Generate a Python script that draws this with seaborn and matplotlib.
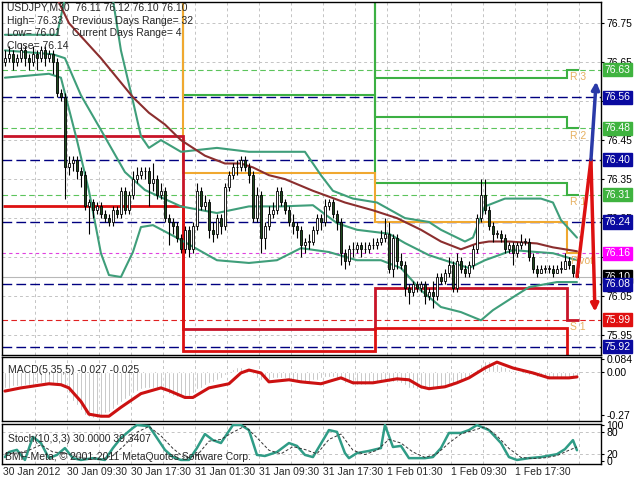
import matplotlib
matplotlib.use("Agg")
import matplotlib.pyplot as plt
import seaborn as sns

# USDJPY M30 bars, first bar = 30 Jan 2012 01:30
first_open = 76.65
closes = [
    76.66, 76.67, 76.65, 76.66, 76.68, 76.66, 76.65, 76.67, 76.66, 76.68,
    76.66, 76.67, 76.65, 76.57, 76.56, 76.38, 76.39, 76.40, 76.37, 76.36,
    76.28, 76.29, 76.27, 76.28, 76.26, 76.25, 76.24, 76.27, 76.26, 76.32,
    76.27, 76.31, 76.35, 76.36, 76.37, 76.37, 76.34, 76.35, 76.31, 76.32,
    76.25, 76.24, 76.23, 76.20, 76.17, 76.22, 76.17, 76.23, 76.32, 76.28,
    76.29, 76.22, 76.21, 76.25, 76.23, 76.33, 76.36, 76.38, 76.38, 76.40,
    76.38, 76.36, 76.25, 76.31, 76.20, 76.23, 76.26, 76.27, 76.32, 76.29,
    76.27, 76.24, 76.23, 76.22, 76.18, 76.19, 76.19, 76.22, 76.25, 76.24,
    76.28, 76.29, 76.26, 76.24, 76.16, 76.14, 76.17, 76.17, 76.18, 76.17,
    76.17, 76.18, 76.18, 76.19, 76.20, 76.21, 76.12, 76.20, 76.14, 76.13,
    76.07, 76.06, 76.08, 76.07, 76.08, 76.05, 76.06, 76.05, 76.10, 76.09,
    76.11, 76.13, 76.07, 76.14, 76.12, 76.11, 76.13, 76.17, 76.25, 76.31,
    76.27, 76.23, 76.21, 76.21, 76.20, 76.17, 76.18, 76.16, 76.18, 76.19,
    76.19, 76.15, 76.12, 76.11, 76.12, 76.12, 76.12, 76.11, 76.12, 76.12,
    76.14, 76.13, 76.11, 76.10]
highs = [
    76.68, 76.69, 76.68, 76.67, 76.70, 76.69, 76.67, 76.69, 76.68, 76.69,
    76.69, 76.68, 76.68, 76.66, 76.58, 76.57, 76.41, 76.41, 76.41, 76.38,
    76.37, 76.30, 76.30, 76.29, 76.29, 76.27, 76.26, 76.28, 76.28, 76.33,
    76.33, 76.32, 76.37, 76.38, 76.38, 76.38, 76.38, 76.39, 76.36, 76.34,
    76.33, 76.26, 76.25, 76.24, 76.21, 76.23, 76.23, 76.24, 76.34, 76.33,
    76.31, 76.30, 76.24, 76.26, 76.26, 76.34, 76.37, 76.39, 76.40, 76.41,
    76.41, 76.39, 76.37, 76.33, 76.32, 76.24, 76.28, 76.29, 76.33, 76.33,
    76.30, 76.28, 76.26, 76.24, 76.23, 76.20, 76.21, 76.23, 76.26, 76.26,
    76.30, 76.30, 76.30, 76.27, 76.25, 76.17, 76.18, 76.19, 76.19, 76.19,
    76.19, 76.19, 76.20, 76.20, 76.22, 76.25, 76.24, 76.21, 76.21, 76.16,
    76.14, 76.08, 76.09, 76.09, 76.09, 76.09, 76.07, 76.09, 76.11, 76.11,
    76.12, 76.15, 76.14, 76.16, 76.15, 76.13, 76.14, 76.18, 76.26, 76.35,
    76.35, 76.28, 76.24, 76.22, 76.22, 76.21, 76.19, 76.19, 76.19, 76.21,
    76.20, 76.20, 76.16, 76.13, 76.13, 76.13, 76.13, 76.13, 76.13, 76.14,
    76.16, 76.15, 76.13, 76.12]
lows = [
    76.64, 76.65, 76.63, 76.64, 76.65, 76.64, 76.63, 76.64, 76.63, 76.65,
    76.64, 76.65, 76.62, 76.56, 76.55, 76.30, 76.36, 76.37, 76.35, 76.33,
    76.27, 76.21, 76.25, 76.26, 76.25, 76.24, 76.23, 76.23, 76.25, 76.25,
    76.26, 76.26, 76.30, 76.34, 76.35, 76.35, 76.28, 76.32, 76.30, 76.30,
    76.24, 76.18, 76.21, 76.19, 76.16, 76.16, 76.15, 76.16, 76.22, 76.27,
    76.27, 76.20, 76.19, 76.20, 76.21, 76.22, 76.32, 76.35, 76.36, 76.37,
    76.37, 76.34, 76.24, 76.24, 76.16, 76.17, 76.22, 76.25, 76.26, 76.28,
    76.26, 76.23, 76.21, 76.20, 76.15, 76.16, 76.17, 76.18, 76.21, 76.22,
    76.23, 76.27, 76.25, 76.22, 76.13, 76.12, 76.13, 76.15, 76.16, 76.15,
    76.16, 76.16, 76.17, 76.17, 76.18, 76.19, 76.11, 76.10, 76.12, 76.12,
    76.05, 76.03, 76.05, 76.06, 76.06, 76.03, 76.04, 76.02, 76.04, 76.08,
    76.08, 76.10, 76.06, 76.06, 76.11, 76.10, 76.10, 76.12, 76.16, 76.24,
    76.26, 76.22, 76.19, 76.20, 76.19, 76.16, 76.16, 76.13, 76.15, 76.17,
    76.18, 76.14, 76.11, 76.10, 76.11, 76.11, 76.11, 76.10, 76.11, 76.11,
    76.12, 76.12, 76.10, 76.10]

time_labels = ["30 Jan 2012", "30 Jan 09:30", "30 Jan 17:30", "31 Jan 01:30",
               "31 Jan 09:30", "31 Jan 17:30", "1 Feb 01:30", "1 Feb 09:30",
               "1 Feb 17:30"]

# Bollinger bands and moving average (bar index, price)
upper_idx = [0, 7, 13, 16, 20, 24, 27, 29, 32, 34, 36, 39, 44, 53, 61, 71, 75,
             79, 82, 87, 93, 100, 106, 109, 115, 117, 120, 125, 134, 137, 139, 143]
upper_val = [76.72, 76.72, 76.72, 76.86, 76.91, 76.89, 76.81, 76.68, 76.55, 76.46,
             76.43, 76.45, 76.42, 76.43, 76.42, 76.42, 76.42, 76.36, 76.32, 76.30,
             76.29, 76.25, 76.24, 76.22, 76.19, 76.20, 76.28, 76.30, 76.30, 76.29,
             76.245, 76.20]
mid_idx = [0, 12, 15, 19, 24, 30, 35, 44, 53, 61, 69, 77, 83, 88, 96, 100, 106,
           112, 116, 120, 127, 133, 137, 143]
mid_val = [76.68, 76.67, 76.66, 76.565, 76.476, 76.368, 76.322, 76.28, 76.263,
           76.28, 76.28, 76.283, 76.237, 76.22, 76.21, 76.186, 76.155, 76.135,
           76.122, 76.142, 76.168, 76.163, 76.16, 76.142]
lower_idx = [0, 11, 14, 18, 21, 24, 26, 29, 32, 34, 37, 44, 53, 61, 68, 74, 81,
             88, 94, 99, 104, 109, 114, 119, 122, 127, 131, 138, 143]
lower_val = [76.61, 76.62, 76.61, 76.45, 76.32, 76.16, 76.104, 76.099, 76.163,
             76.227, 76.232, 76.194, 76.142, 76.135, 76.142, 76.173, 76.163,
             76.142, 76.142, 76.122, 76.065, 76.022, 76.009, 75.988, 76.014,
             76.047, 76.073, 76.086, 76.086]
ma_idx = [8, 16, 24, 32, 36, 40, 44, 50, 55, 59, 62, 66, 70, 77, 85, 92, 98, 104,
          109, 114, 118, 121, 126, 133, 137, 143]
ma_val = [76.92, 76.75, 76.66, 76.56, 76.52, 76.49, 76.45, 76.41, 76.39, 76.39,
          76.38, 76.36, 76.35, 76.32, 76.29, 76.27, 76.25, 76.22, 76.19, 76.17,
          76.185, 76.19, 76.19, 76.185, 76.175, 76.165]

# daily pivot levels (one value per day segment)
day_edges = [-0.5, 44.5, 92.5, 140.5, 143.5]
r3_day = [77.10, 77.05, 76.61, 76.63]
r2_day = [77.00, 76.90, 76.51, 76.48]
r1_day = [76.90, 76.565, 76.34, 76.31]
pivot_day = [76.85, 76.365, 76.24, 76.16]
s1_day = [76.46, 75.965, 76.07, 75.99]
s2_day = [76.28, 75.91, 75.968, 75.85]

r_levels = [76.63, 76.48, 76.31]
pivot_level = 76.16
s_level = 75.99
range_levels = [76.56, 76.40, 76.24, 76.08, 75.92]
bid = 76.10

box_levels = [76.63, 76.56, 76.48, 76.40, 76.31, 76.24, 76.16, 76.10, 76.08, 75.99, 75.92]
box_colors = ['#3fb33f', '#0a0aa0', '#3fb33f', '#0a0aa0', '#3fb33f', '#0a0aa0',
              '#ff00ff', '#000000', '#0a0aa0', '#e01010', '#0a0aa0']

# forecast arrows
red_idx = [143, 146.5, 147.5]
red_price = [76.10, 76.40, 76.01]
blue_idx = [146.5, 147.8]
blue_price = [76.40, 76.60]

# MACD(5,35,5)
macd_hist = [
    -0.10, -0.10, -0.09, -0.09, -0.09, -0.08, -0.08, -0.08, -0.07, -0.07,
    -0.07, -0.07, -0.07, -0.08, -0.09, -0.10, -0.13, -0.18, -0.21, -0.24,
    -0.27, -0.28, -0.29, -0.29, -0.28, -0.26, -0.25, -0.23, -0.21, -0.19,
    -0.17, -0.15, -0.13, -0.12, -0.11, -0.10, -0.10, -0.10, -0.10, -0.11,
    -0.12, -0.14, -0.15, -0.16, -0.16, -0.16, -0.15, -0.13, -0.11, -0.10,
    -0.08, -0.07, -0.06, -0.05, -0.04, -0.02, 0.00, 0.02, 0.03, 0.03,
    0.02, 0.01, -0.01, -0.04, -0.05, -0.05, -0.05, -0.04, -0.04, -0.04,
    -0.04, -0.05, -0.05, -0.06, -0.06, -0.06, -0.06, -0.05, -0.05, -0.04,
    -0.03, -0.03, -0.03, -0.04, -0.05, -0.07, -0.07, -0.08, -0.08, -0.08,
    -0.08, -0.07, -0.07, -0.07, -0.06, -0.05, -0.06, -0.06, -0.06, -0.07,
    -0.08, -0.10, -0.10, -0.11, -0.11, -0.11, -0.11, -0.11, -0.10, -0.10,
    -0.09, -0.08, -0.08, -0.07, -0.06, -0.05, -0.04, -0.02, 0.02, 0.05,
    0.07, 0.07, 0.06, 0.05, 0.04, 0.03, 0.02, 0.01, 0.00, 0.00,
    -0.01, -0.02, -0.02, -0.03, -0.03, -0.04, -0.04, -0.04, -0.04, -0.04,
    -0.03, -0.03, -0.03, -0.03]
sig_idx = [0, 4, 11, 14, 16, 19, 21, 24, 26, 29, 34, 39, 41, 45, 47, 51, 56, 59,
           61, 64, 66, 71, 74, 79, 84, 87, 92, 98, 101, 104, 106, 110, 113, 116,
           120, 123, 127, 132, 136, 141, 143]
sig_val = [-0.12, -0.10, -0.074, -0.08, -0.10, -0.185, -0.265, -0.278, -0.278,
           -0.222, -0.136, -0.10, -0.117, -0.16, -0.16, -0.10, -0.074, -0.006,
           0.012, -0.006, -0.062, -0.049, -0.062, -0.074, -0.037, -0.068, -0.068,
           -0.043, -0.049, -0.093, -0.105, -0.093, -0.068, -0.037, 0.025, 0.062,
           0.025, -0.006, -0.037, -0.037, -0.031]

# Stochastic(10,3,3)
k_idx = [0, 1, 3, 5, 7, 9, 11, 13, 15, 17, 19, 22, 25, 27, 29, 32, 33, 36, 37, 40,
         42, 44, 46, 48, 50, 52, 54, 57, 59, 61, 63, 65, 68, 71, 73, 75, 77, 80,
         81, 83, 85, 86, 88, 91, 94, 95, 97, 99, 101, 105, 107, 109, 111, 114,
         116, 118, 121, 124, 126, 128, 131, 134, 138, 140, 142, 143]
k_val = [11, 25, 31, 3, 67, 50, 8, 17, 36, 8, 3, 8, 3, 36, 64, 92, 100, 97, 81, 31,
         11, 3, 3, 36, 75, 58, 50, 100, 100, 86, 17, 14, 25, 50, 42, 17, 11, 67,
         86, 81, 22, 8, 22, 28, 36, 100, 39, 42, 8, 8, 11, 36, 78, 78, 86, 100,
         86, 50, 11, 3, 8, 11, 19, 33, 58, 30]
d_idx = list(range(0, 142, 3)) + [143]
d_val = [20, 22, 30, 45, 25, 22, 12, 6, 5, 15, 45, 80, 96, 70, 35, 8, 15, 55, 60,
         80, 97, 65, 30, 20, 40, 32, 20, 60, 75, 30, 18, 30, 60, 50, 25, 10, 20,
         50, 75, 85, 95, 70, 35, 10, 7, 9, 15, 30, 39]

sns.set_style("white")
plt.rcParams['font.family'] = ['Liberation Sans', 'DejaVu Sans']

fig = plt.figure(figsize=(6.4, 4.8), dpi=100)
ax = fig.add_axes([0.003, 0.2604, 0.936, 0.7354])
ax_macd = fig.add_axes([0.003, 0.1229, 0.936, 0.1333])
ax_st = fig.add_axes([0.003, 0.0333, 0.936, 0.0833])

grid_kw = dict(color='#c4c4c4', lw=0.7, ls=(0, (3, 3)), zorder=0)
for a in (ax, ax_macd, ax_st):
    a.set_xlim(-0.75, 149)
    for k in range(1, 19):
        a.axvline(8 * k - 0.5, **grid_kw)
    for s in a.spines.values():
        s.set_color('black')
        s.set_linewidth(1)
    a.yaxis.tick_right()
    a.tick_params(axis='y', length=2, pad=2, labelsize=7.5, colors='black')
    a.tick_params(axis='x', length=0)

# ---- main price panel ----
ax.set_ylim(75.899, 76.804)
price_ticks = [76.75, 76.65, 76.55, 76.45, 76.35, 76.25, 76.15, 76.05, 75.95]
hidden_ticks = [76.55, 76.15]  # fully covered by the level boxes
ax.set_yticks(price_ticks)
ax.set_yticklabels(["" if p in hidden_ticks else f"{p:.2f}" for p in price_ticks])
ax.set_xticks([])
for p in price_ticks:
    ax.axhline(p, **grid_kw)

for lv in range_levels:
    ax.axhline(lv, color='#000080', lw=1, ls=(0, (7, 3)), zorder=1)
for lv in r_levels:
    ax.axhline(lv, color='#5cc45c', lw=0.8, ls=(0, (5, 3)), zorder=1)
ax.axhline(pivot_level, color='#e040e0', lw=0.8, ls=(0, (3, 3)), zorder=1)
ax.axhline(s_level, color='#e02020', lw=0.8, ls=(0, (5, 3)), zorder=1)
ax.axhline(bid, color='#b8b8b8', lw=0.8, zorder=1)

for vals in (r3_day, r2_day, r1_day):
    ax.stairs(vals, day_edges, baseline=None, color='#3cb043', lw=1.5, zorder=2)
ax.stairs(pivot_day, day_edges, baseline=None, color='#f0a830', lw=1.5, zorder=2)
ax.stairs(s1_day, day_edges, baseline=None, color='#c81428', lw=2, zorder=2)
ax.stairs(s2_day, day_edges, baseline=None, color='#dd1111', lw=2, zorder=2)

band_color = '#3f9e7a'
sns.lineplot(x=upper_idx, y=upper_val, ax=ax, color=band_color, lw=1.5, zorder=3)
sns.lineplot(x=mid_idx, y=mid_val, ax=ax, color=band_color, lw=1.5, zorder=3)
sns.lineplot(x=lower_idx, y=lower_val, ax=ax, color=band_color, lw=1.5, zorder=3)
sns.lineplot(x=ma_idx, y=ma_val, ax=ax, color='#8b2e2e', lw=1.5, zorder=3)

# candles
idx = list(range(len(closes)))
opens = [first_open] + closes[:-1]
body_bot = [min(o, c) for o, c in zip(opens, closes)]
body_h = [max(abs(c - o), 0.002) for o, c in zip(opens, closes)]
body_col = ['white' if c >= o else '#1e4a1e' for o, c in zip(opens, closes)]
ax.vlines(idx, lows, highs, color='black', lw=0.8, zorder=4)
ax.bar(idx, body_h, bottom=body_bot, width=0.7, color=body_col,
       edgecolor='black', linewidth=0.6, zorder=5)

# forecast arrows
ax.plot(red_idx[:2], red_price[:2], color='#dd1111', lw=2.5, zorder=6)
ax.annotate('', xy=(red_idx[2], red_price[2]), xytext=(red_idx[1], red_price[1]),
            arrowprops=dict(arrowstyle='-|>', color='#dd1111', lw=2.5,
                            mutation_scale=11, shrinkA=0, shrinkB=0), zorder=6)
ax.annotate('', xy=(blue_idx[1], blue_price[1]), xytext=(blue_idx[0], blue_price[0]),
            arrowprops=dict(arrowstyle='-|>', color='#2a3aa8', lw=2.5,
                            mutation_scale=11, shrinkA=0, shrinkB=0), zorder=6)

# level names
lab_kw = dict(color='#e6b060', fontsize=7.5, va='top', ha='left', zorder=5)
for name, lv in zip(["R 3", "R 2", "R 1"], r_levels):
    ax.text(141.3, lv - 0.006, name, **lab_kw)
ax.text(141.3, pivot_level - 0.006, "Pivot", **lab_kw)
ax.text(141.3, s_level - 0.006, "S 1", **lab_kw)

# coloured price boxes on the right scale
ytr = ax.get_yaxis_transform()
for lv, col in zip(box_levels, box_colors):
    ax.text(1.006, lv, f"{lv:.2f}", transform=ytr, ha='left', va='center',
            fontsize=7.5, color='white', zorder=10,
            bbox=dict(boxstyle='square,pad=0.15', fc=col, ec=col))

# ---- MACD panel ----
ax_macd.set_ylim(-0.308, 0.094)
ax_macd.set_xticks([])
ax_macd.set_yticks([-0.27, 0.0, 0.084])
ax_macd.set_yticklabels(['-0.27', '0.00', '0.084'])
ax_macd.axhline(0, **grid_kw)
ax_macd.bar(idx, macd_hist, width=0.55, color='#a8a8a8', zorder=2)
sns.lineplot(x=sig_idx, y=sig_val, ax=ax_macd, color='#cc1111', lw=2.2, zorder=3)
ax_macd.text(0.01, 0.80, "MACD(5,35,5) -0.027 -0.025", transform=ax_macd.transAxes,
             fontsize=7.5, va='center', ha='left')

# ---- Stochastic panel ----
ax_st.set_ylim(-8.3, 102.8)
ax_st.set_yticks([0, 20, 80, 100])
ax_st.set_yticklabels(['0', '20', '80', '100'])
ax_st.axhline(20, **grid_kw)
ax_st.axhline(80, **grid_kw)
sns.lineplot(x=k_idx, y=k_val, ax=ax_st, color='#2f9c86', lw=1.8, zorder=3)
sns.lineplot(x=d_idx, y=d_val, ax=ax_st, color='#333333', lw=0.7,
             linestyle=(0, (3, 2)), zorder=3)
ax_st.text(0.01, 0.62, "Stoch(10,3,3) 30.0000 39.3407", transform=ax_st.transAxes,
           fontsize=7.5, va='center', ha='left')
ax_st.text(0.005, 0.17, "BMF-Meta, \u00a9 2001-2011 MetaQuotes Software Corp.",
           transform=ax_st.transAxes, fontsize=7.5, va='center', ha='left')
ax_st.set_xticks([16 * k - 0.5 for k in range(len(time_labels))])
ax_st.set_xticklabels(time_labels, ha='left', fontsize=7.5)
ax_st.tick_params(axis='x', pad=2)

for a in (ax, ax_macd, ax_st):
    a.set_xlabel('')
    a.set_ylabel('')

# header text
hdr = dict(fontsize=7.5, va='center', ha='left')
fig.text(7 / 640, 1 - 8 / 480, "USDJPY,M30  76.11 76.12 76.10 76.10", **hdr)
fig.text(7 / 640, 1 - 21 / 480, "High= 76.33", **hdr)
fig.text(72 / 640, 1 - 21 / 480, "Previous Days Range= 32", **hdr)
fig.text(7 / 640, 1 - 33 / 480, "Low= 76.01", **hdr)
fig.text(72 / 640, 1 - 33 / 480, "Current Days Range= 4", **hdr)
fig.text(7 / 640, 1 - 46 / 480, "Close= 76.14", **hdr)

fig.savefig("out.png", dpi=100)
